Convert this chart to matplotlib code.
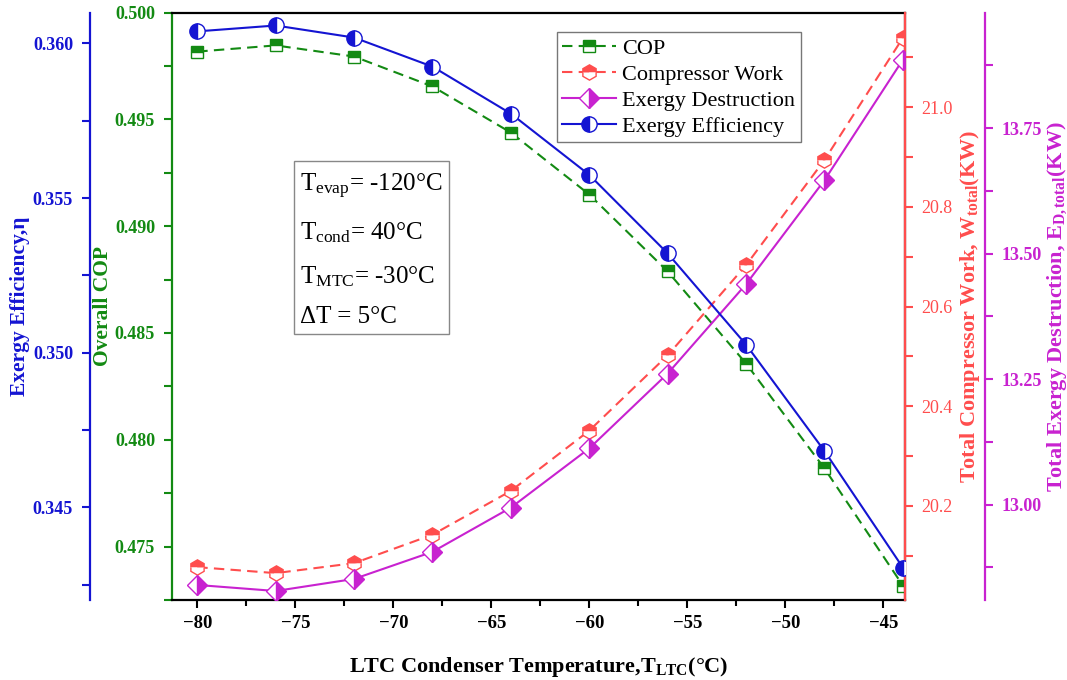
import numpy as np
import matplotlib.pyplot as plt
from matplotlib.ticker import MultipleLocator

plt.rcParams['font.family'] = 'Liberation Serif'
plt.rcParams['mathtext.fontset'] = 'custom'
plt.rcParams['mathtext.rm'] = 'Liberation Serif'
plt.rcParams['mathtext.it'] = 'Liberation Serif'
plt.rcParams['mathtext.bf'] = 'Liberation Serif:bold'

# data
t_ltc = [-80, -76, -72, -68, -64, -60, -56, -52, -48, -44]
cop = [0.49817, 0.49846, 0.49794, 0.49654, 0.49438, 0.49148, 0.48788, 0.48357, 0.47866, 0.47318]
w_comp = [20.077, 20.065, 20.085, 20.142, 20.230, 20.351, 20.502, 20.683, 20.894, 21.139]
ex_dest = [12.840, 12.828, 12.852, 12.906, 12.994, 13.112, 13.261, 13.439, 13.646, 13.886]
ex_eff = [0.36039, 0.36058, 0.36019, 0.35925, 0.35773, 0.35575, 0.35321, 0.35026, 0.34682, 0.34305]

c_green = '#138a13'
c_red = '#ff4d4d'
c_mag = '#c822d0'
c_blue = '#1414d2'

fig = plt.figure(figsize=(10.67, 6.8), dpi=100)
ax = fig.add_axes([0.161, 0.1176, 0.687, 0.864])
ax_w = ax.twinx()
ax_d = ax.twinx()
ax_e = ax.twinx()

ms = 10
l1, = ax.plot(t_ltc, cop, '--', color=c_green, lw=1.5, dashes=(5, 3), marker='s', ms=ms - 1,
              fillstyle='top', mfc=c_green, mfcalt='white', mec=c_green, label='COP')
l2, = ax_w.plot(t_ltc, w_comp, '--', color=c_red, lw=1.5, dashes=(5, 3), marker='h', ms=ms + 1,
                fillstyle='top', mfc=c_red, mfcalt='white', mec=c_red, label='Compressor Work')
l3, = ax_d.plot(t_ltc, ex_dest, '-', color=c_mag, lw=1.5, marker='D', ms=ms, fillstyle='right',
                mfc=c_mag, mfcalt='white', mec=c_mag, label='Exergy Destruction')
l4, = ax_e.plot(t_ltc, ex_eff, '-', color=c_blue, lw=1.5, marker='o', ms=ms + 1, fillstyle='left',
                mfc=c_blue, mfcalt='white', mec=c_blue, label='Exergy Efficiency')

ax.set_xlim(-81.3, -43.9)
ax.set_ylim(0.4725, 0.500)
ax_w.set_ylim(20.011, 21.19)
ax_d.set_ylim(12.81, 13.98)
ax_e.set_ylim(0.3420, 0.3610)

# spines
ax_d.spines['right'].set_position(('axes', 1.109))
ax_e.spines['left'].set_position(('axes', -0.112))
ax_e.spines['left'].set_visible(True)
ax_e.spines['right'].set_visible(False)
ax_e.yaxis.set_ticks_position('left')
ax_e.yaxis.set_label_position('left')
for a in (ax_w, ax_d, ax_e):
    a.spines['top'].set_visible(False)
    a.spines['bottom'].set_visible(False)
ax_d.spines['left'].set_visible(False)
ax_w.spines['left'].set_visible(False)

ax.spines['left'].set_color(c_green)
ax_w.spines['right'].set_color(c_red)
ax_d.spines['right'].set_color(c_mag)
ax_e.spines['left'].set_color(c_blue)
for a in (ax, ax_w, ax_d, ax_e):
    for s in a.spines.values():
        s.set_linewidth(1.6)

ax.xaxis.set_major_locator(MultipleLocator(5))
ax.xaxis.set_minor_locator(MultipleLocator(2.5))
ax.yaxis.set_major_locator(MultipleLocator(0.005))
ax.yaxis.set_minor_locator(MultipleLocator(0.0025))
ax_w.yaxis.set_major_locator(MultipleLocator(0.2))
ax_w.yaxis.set_minor_locator(MultipleLocator(0.1))
ax_d.yaxis.set_major_locator(MultipleLocator(0.25))
ax_d.yaxis.set_minor_locator(MultipleLocator(0.125))
ax_e.yaxis.set_major_locator(MultipleLocator(0.005))
ax_e.yaxis.set_minor_locator(MultipleLocator(0.0025))

ax.yaxis.set_major_formatter(lambda v, p: f'{v:.3f}')
ax_e.yaxis.set_major_formatter(lambda v, p: f'{v:.3f}')
ax_w.yaxis.set_major_formatter(lambda v, p: f'{v:.1f}')
ax_d.yaxis.set_major_formatter(lambda v, p: f'{v:.2f}')
ax.xaxis.set_major_formatter(lambda v, p: f'\u2212{abs(v):.0f}')

ax.tick_params(axis='x', which='both', direction='out', length=6, width=1.5, labelsize=13.5, pad=5)
ax.tick_params(axis='x', which='minor', length=4)
for a, c in ((ax, c_green), (ax_w, c_red), (ax_d, c_mag), (ax_e, c_blue)):
    a.tick_params(axis='y', which='both', direction='out', length=6, width=1.5, colors=c,
                  labelsize=13, pad=6)
    if a is not ax_w:
        for lab in a.get_yticklabels():
            lab.set_fontweight('bold')
for lab in ax.get_xticklabels():
    lab.set_fontweight('bold')

ax.set_xlabel(r'LTC Condenser Temperature,T$_{\mathbf{LTC}}$(°C)', fontsize=16, fontweight='bold', labelpad=16)
ax.set_ylabel('Overall COP', fontsize=15.5, fontweight='bold', color=c_green)
ax.yaxis.set_label_coords(-0.08, 0.5)
ax_e.set_ylabel('Exergy Efficiency,η', fontsize=15.5, fontweight='bold', color=c_blue)
ax_e.yaxis.set_label_coords(-0.193, 0.5)
ax_w.set_ylabel(r'Total Compressor Work, W$_{\mathbf{total}}$(KW)', fontsize=16, fontweight='bold', color=c_red)
ax_w.yaxis.set_label_coords(1.072, 0.5)
ax_d.set_ylabel(r'Total Exergy Destruction, E$_{\mathbf{D,total}}$(KW)', fontsize=16, fontweight='bold', color=c_mag)
ax_d.yaxis.set_label_coords(1.192, 0.5)

ax_e.text(0.175, 0.728,
          'T$_{evap}$= -120°C\nT$_{cond}$= 40°C\nT$_{MTC}$= -30°C\nΔT = 5°C',
          transform=ax.transAxes, fontsize=18, va='top', ha='left', linespacing=2.0,
          bbox=dict(boxstyle='square,pad=0.25', fc='white', ec='#888888', lw=1))

leg = ax_e.legend(handles=[l1, l2, l3, l4], loc='upper left', bbox_to_anchor=(0.51, 0.985),
                  fontsize=16, frameon=True, fancybox=False, edgecolor='#555555', numpoints=1,
                  handlelength=2.4, borderpad=0.25, labelspacing=0.25, handletextpad=0.3)
leg.get_frame().set_linewidth(1)

fig.savefig('out.png', dpi=100)
